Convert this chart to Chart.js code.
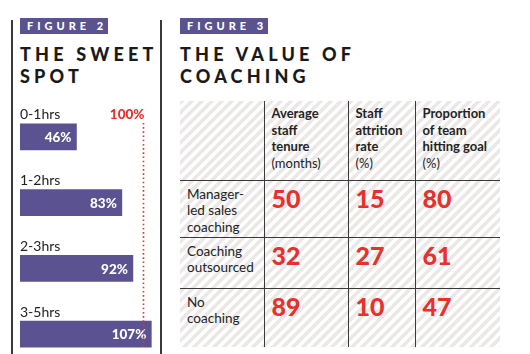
<!DOCTYPE html>
<html>
<head>
<meta charset="utf-8">
<script src="https://cdn.jsdelivr.net/npm/chart.js@4"></script>
<style>
  html, body { margin: 0; padding: 0; }
  body { width: 530px; height: 354px; overflow: hidden; background: #fff; position: relative; font-family: Lato, "Open Sans", sans-serif; color: #222; }
  .rule { position: absolute; top: 20px; bottom: 0; width: 1.5px; background: #3a3a3a; }
  .tag { position: absolute; top: 18px; height: 16px; background: #5b5391; color: #fff; font: 900 11px Lato, sans-serif; letter-spacing: 4px; line-height: 16px; padding-left: 7px; box-sizing: border-box; white-space: nowrap; }
  .title { position: absolute; top: 44px; font: 900 18px Lato, sans-serif; letter-spacing: 4.2px; line-height: 21.6px; color: #1a1a1a; white-space: nowrap; }
  #left-wrap { position: absolute; left: 20px; top: 104px; width: 135px; height: 263px; }
  #table-wrap { position: absolute; left: 180px; top: 101px; width: 320px; height: 246px;
    background: repeating-linear-gradient(135deg, #ece8e8 0 3.5px, #fff 3.5px 7px); }
  table { border-collapse: collapse; table-layout: fixed; width: 320px; height: 246px; }
  td { vertical-align: top; padding: 0; border: 1px solid #3a3a3a; font-size: 13px; line-height: 16.5px; }
  tr:first-child td { border-top: none; }
  tr:last-child td { border-bottom: none; }
  td:first-child { border-left: none; }
  td:last-child { border-right: none; }
  .hd { padding: 4px 0 0 7px; color: #222; }
  .hd b { font-weight: 700; }
  .rl { padding: 5px 0 0 7px; font-size: 13.5px; }
  .num { padding: 7px 0 0 7px; font: 900 25px Lato, sans-serif; color: #e8302c; line-height: 20px; }
</style>
</head>
<body>
<div class="rule" style="left:11px"></div>
<div class="rule" style="left:160px"></div>
<div class="tag" style="left:20px;width:88px">FIGURE 2</div>
<div class="title" style="left:20px">THE SWEET<br>SPOT</div>
<div id="left-wrap"><canvas id="bars"></canvas></div>

<div class="tag" style="left:180px;width:88px">FIGURE 3</div>
<div class="title" style="left:180px">THE VALUE OF<br>COACHING</div>
<div id="table-wrap"><table id="tbl"></table></div>

<script>
// Figure 2
const hourBands = ['0-1hrs', '1-2hrs', '2-3hrs', '3-5hrs'];
const bandValues = [46, 83, 92, 107];
const targetValue = 100;

// Figure 3
const colHeads = [
  ['Average', 'staff', 'tenure', '(months)'],
  ['Staff', 'attrition', 'rate', '(%)'],
  ['Proportion', 'of team', 'hitting goal', '(%)'],
];
const rowHeads = [
  ['Manager-', 'led sales', 'coaching'],
  ['Coaching', 'outsourced'],
  ['No', 'coaching'],
];
const tenure = [50, 32, 89];
const attrition = [15, 27, 10];
const hittingGoal = [80, 61, 47];

const PURPLE = '#5b5391';
const RED = '#e8302c';

const barLabels = {
  id: 'barLabels',
  afterDatasetsDraw(chart) {
    const { ctx, scales: { x } } = chart;
    const meta = chart.getDatasetMeta(0);
    ctx.save();
    meta.data.forEach((bar, i) => {
      ctx.fillStyle = '#222';
      ctx.font = '14px Lato, sans-serif';
      ctx.textAlign = 'left';
      ctx.textBaseline = 'middle';
      ctx.fillText(hourBands[i], x.left, bar.y - 22);
      ctx.fillStyle = '#fff';
      ctx.font = '900 13.5px Lato, sans-serif';
      ctx.textAlign = 'right';
      ctx.fillText(bandValues[i] + '%', bar.x - 5, bar.y + 1);
    });
    // target line
    const tx = Math.round(x.getPixelForValue(targetValue)) + 0.5;
    ctx.strokeStyle = RED;
    ctx.lineWidth = 1.6;
    ctx.setLineDash([1.6, 2.6]);
    ctx.beginPath();
    ctx.moveTo(tx, meta.data[0].y - 14);
    ctx.lineTo(tx, meta.data[meta.data.length - 1].y + 13);
    ctx.stroke();
    ctx.setLineDash([]);
    ctx.fillStyle = RED;
    ctx.font = '900 13.5px Lato, sans-serif';
    ctx.textAlign = 'right';
    ctx.textBaseline = 'middle';
    ctx.fillText(targetValue + '%', tx + 1, meta.data[0].y - 22);
    ctx.restore();
  }
};

new Chart(document.getElementById('bars'), {
  type: 'bar',
  data: {
    labels: hourBands,
    datasets: [{ data: bandValues, backgroundColor: PURPLE, barThickness: 26, borderWidth: 0 }],
  },
  options: {
    indexAxis: 'y',
    responsive: true,
    maintainAspectRatio: false,
    animation: false,
    layout: { padding: 0 },
    plugins: { legend: { display: false }, tooltip: { enabled: false } },
    scales: {
      x: { display: false, min: 0, max: 110 },
      y: { display: false },
    },
  },
  plugins: [barLabels],
});

// table
const colW = [84, 84, 67, 85];
const rowH = [79, 57, 51, 59];
const tbl = document.getElementById('tbl');
let html = '<colgroup>' + colW.map(w => `<col style="width:${w}px">`).join('') + '</colgroup>';
html += `<tr style="height:${rowH[0]}px"><td></td>` +
  colHeads.map(h => `<td class="hd"><b>${h.slice(0, 3).join('<br>')}</b><br>${h[3]}</td>`).join('') + '</tr>';
rowHeads.forEach((r, i) => {
  html += `<tr style="height:${rowH[i + 1]}px"><td class="rl">${r.join('<br>')}</td>` +
    [tenure[i], attrition[i], hittingGoal[i]].map(v => `<td class="num">${v}</td>`).join('') + '</tr>';
});
tbl.innerHTML = html;
</script>
</body>
</html>
